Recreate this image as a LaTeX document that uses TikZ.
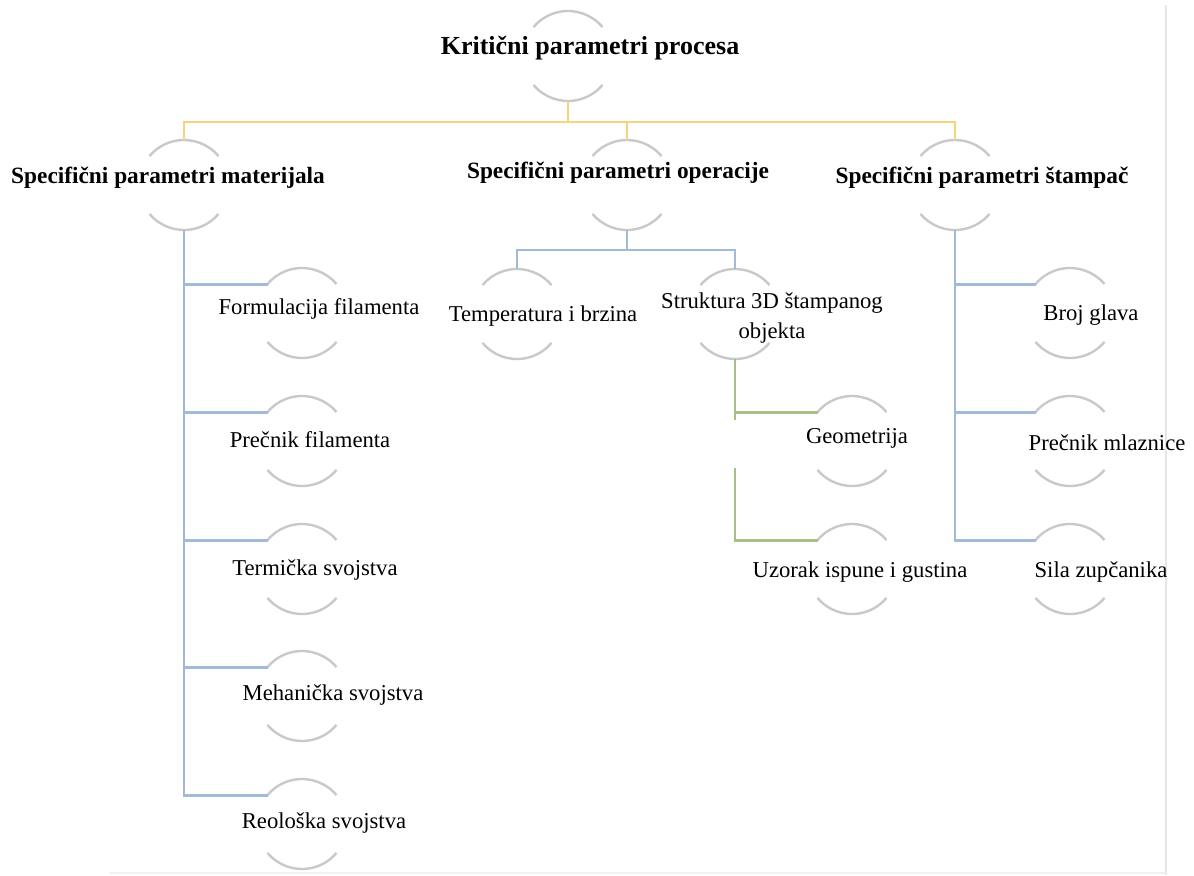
\documentclass[tikz,border=0pt]{standalone}
\usepackage{fontspec}
\setmainfont{Liberation Serif}
\definecolor{arcgrey}{HTML}{C9C9C9}
\definecolor{yelline}{HTML}{F4D47C}
\definecolor{bluline}{HTML}{A2BAD9}
\definecolor{grnline}{HTML}{A6BF8B}
\definecolor{framegrey}{HTML}{E6E6E6}
\begin{document}
\begin{tikzpicture}[x=0.75pt,y=-0.75pt,
  ring/.style={circle,minimum size=67.5pt,inner sep=0pt,outer sep=0pt,draw=none},
  arcline/.style={draw=arcgrey,line width=1.8pt},
  yel/.style={draw=yelline,line width=2.2pt},
  blu/.style={draw=bluline,line width=2.2pt},
  grn/.style={draw=grnline,line width=2.2pt},
  rootlbl/.style={font=\fontsize{19.5pt}{22pt}\selectfont\bfseries,inner sep=0pt},
  headlbl/.style={font=\fontsize{17.5pt}{20pt}\selectfont\bfseries,inner sep=0pt},
  leaflbl/.style={font=\fontsize{17pt}{23pt}\selectfont,inner sep=0pt,align=center}]
\useasboundingbox (0,0) rectangle (1194,875);
\fill[white] (0,0) rectangle (1194,875);
% faint frame
\draw[framegrey,line width=1.1pt] (1166,5) -- (1166,875);
\draw[framegrey!60,line width=0.8pt] (110,873) -- (1166,873);

% circles (invisible nodes used for arcs and anchors)
\node[ring] (rR) at (568,56) {};
\node[ring] (rM) at (184,185) {};
\node[ring] (rO) at (627,185) {};
\node[ring] (rS) at (955,185) {};
\node[ring] (rF) at (302,313) {};
\node[ring] (rP) at (302,441) {};
\node[ring] (rTe) at (302,569) {};
\node[ring] (rMe) at (302,696) {};
\node[ring] (rRe) at (302,824) {};
\node[ring] (rT) at (517,314) {};
\node[ring] (rSt) at (735,314) {};
\node[ring] (rG) at (852,441) {};
\node[ring] (rU) at (852,569) {};
\node[ring] (rB) at (1070,313) {};
\node[ring] (rPM) at (1070,441) {};
\node[ring] (rSZ) at (1070,569) {};

\foreach \n in {rR,rM,rO,rS,rF,rP,rTe,rMe,rRe,rT,rSt,rG,rU,rB,rPM,rSZ}{
  \draw[arcline] (\n.40) arc[start angle=40,end angle=140,radius=33.75pt];
  \draw[arcline] (\n.220) arc[start angle=220,end angle=320,radius=33.75pt];
}

% bus coordinates
\coordinate (busR) at (0,122);
\coordinate (busO) at (0,250);
\coordinate (gapA) at (0,420);
\coordinate (gapB) at (0,468);

% root connectors
\draw[yel] (rR.south) -- (rR.south |- busR) -| (rM.north);
\draw[yel] (rR.south) -- (rR.south |- busR) -| (rO.north);
\draw[yel] (rR.south) -- (rR.south |- busR) -| (rS.north);

% material connectors
\draw[blu] (rM.south) |- (rF.140);
\draw[blu] (rM.south) |- (rP.140);
\draw[blu] (rM.south) |- (rTe.140);
\draw[blu] (rM.south) |- (rMe.140);
\draw[blu] (rM.south) |- (rRe.140);

% operation connectors
\draw[blu] (rO.south) -- (rO.south |- busO) -| (rT.north);
\draw[blu] (rO.south) -- (rO.south |- busO) -| (rSt.north);

% structure connectors
\draw[grn] (rSt.south) |- (rG.140);
\draw[grn] (rSt.south) -- (rSt.south |- gapA);
\draw[grn] (rSt.south |- gapB) |- (rU.140);

% printer connectors
\draw[blu] (rS.south) |- (rB.140);
\draw[blu] (rS.south) |- (rPM.140);
\draw[blu] (rS.south) |- (rSZ.140);

% labels
\node[rootlbl] (tR) at (590,48) {Kritični parametri procesa};
\node[headlbl] (tM) at (168,178) {Specifični parametri materijala};
\node[headlbl] (tO) at (618,173) {Specifični parametri operacije};
\node[headlbl] (tS) at (982,178) {Specifični parametri štampač};
\node[leaflbl] (tF) at (319,309) {Formulacija filamenta};
\node[leaflbl] (tP) at (310,440) {Prečnik filamenta};
\node[leaflbl] (tTe) at (315,570) {Termička svojstva};
\node[leaflbl] (tMe) at (333,695) {Mehanička svojstva};
\node[leaflbl] (tRe) at (324,823) {Reološka svojstva};
\node[leaflbl] (tT) at (543,316) {Temperatura i brzina};
\node[leaflbl] (tSt) at (772,318) {Struktura 3D štampanog\\objekta};
\node[leaflbl] (tG) at (857,438) {Geometrija};
\node[leaflbl] (tU) at (860,572) {Uzorak ispune i gustina};
\node[leaflbl] (tB) at (1091,315) {Broj glava};
\node[leaflbl] (tPM) at (1107,443) {Prečnik mlaznice};
\node[leaflbl] (tSZ) at (1101,572) {Sila zupčanika};
\end{tikzpicture}
\end{document}
